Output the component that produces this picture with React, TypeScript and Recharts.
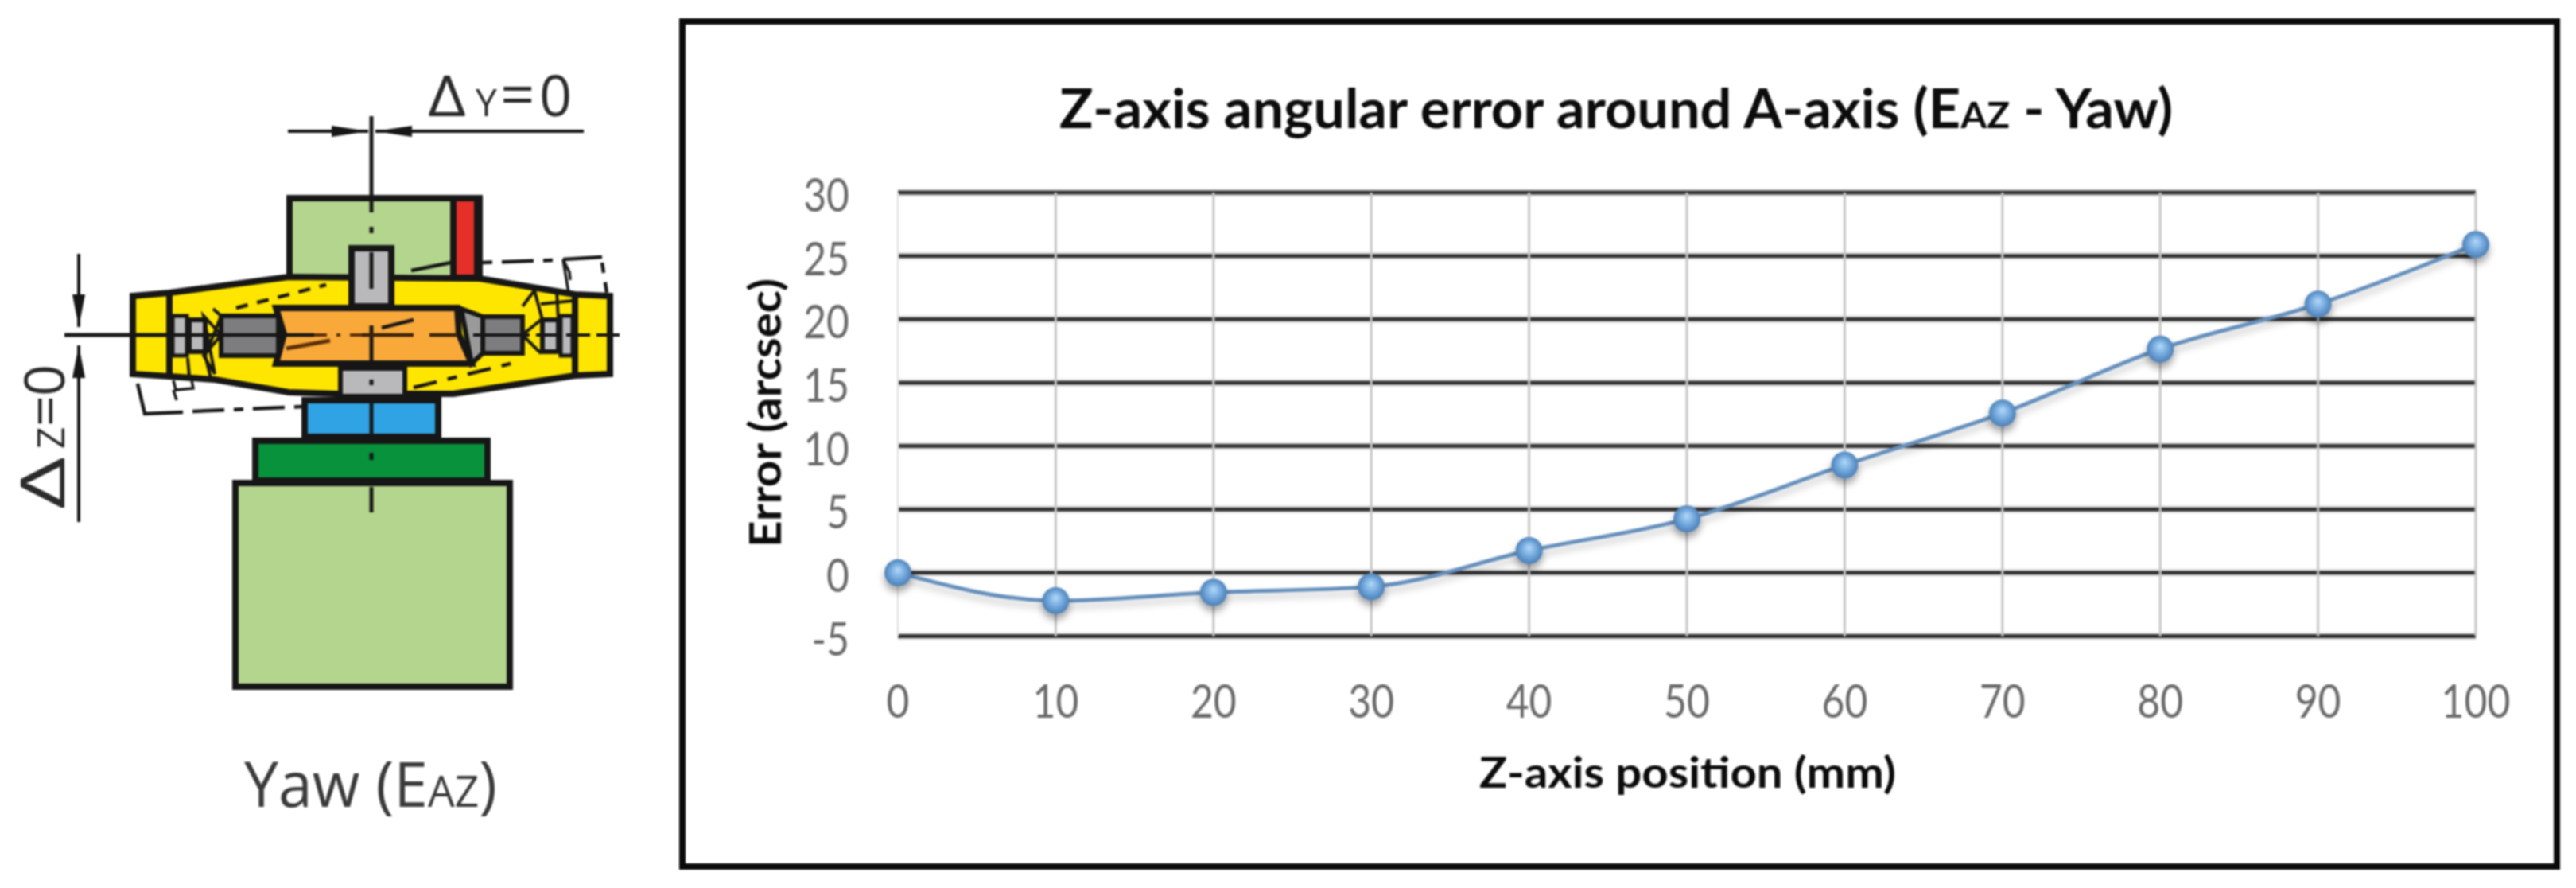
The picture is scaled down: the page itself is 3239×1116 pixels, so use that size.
import { CartesianGrid, Label, Line, LineChart, XAxis, YAxis } from 'recharts';

const positions = [0, 10, 20, 30, 40, 50, 60, 70, 80, 90, 100];
const errors = [0, -2.2, -1.55, -1.1, 1.75, 4.25, 8.5, 12.6, 17.65, 21.2, 25.9];
const yTicks = [-5, 0, 5, 10, 15, 20, 25, 30];

const chartData = positions.map((position, i) => ({ position, error: errors[i] }));

const INK = '#161616';
const LABEL_FONT = 'Lato, "Open Sans", sans-serif';
const DRAW_FONT = '"Open Sans", sans-serif';

const XTick = ({ x, y, payload }: any) => (
  <g transform={`translate(${x},${y}) scale(0.86,1)`}>
    <text textAnchor="middle" fontFamily={LABEL_FONT} fontSize={58} fill="#6a6a6a">
      {payload.value}
    </text>
  </g>
);

const YTick = ({ x, y, payload }: any) => (
  <g transform={`translate(${x},${y + 24}) scale(0.86,1)`}>
    <text textAnchor="end" fontFamily={LABEL_FONT} fontSize={58} fill="#6a6a6a">
      {payload.value}
    </text>
  </g>
);

const BallDot = ({ cx, cy, index }: any) => (
  <circle key={index} cx={cx} cy={cy} r={17} fill="url(#ballFill)" filter="url(#ballShadow)" />
);

// left-hand machine sketch, just a drawing next to the plot
const Sketch = () => (
  <svg width={850} height={1116} style={{ position: 'absolute', left: 0, top: 0 }}>
    <g stroke={INK} strokeWidth={8} strokeLinejoin="miter">
      <rect x={296} y={607} width={345} height={256} fill="#b4d58e" />
      <rect x={364} y={249} width={239} height={104} fill="#b4d58e" />
      <rect x={570} y={249} width={30} height={100} fill="#e5302a" />
      <rect x={321} y={554} width={292} height={50} fill="#08923c" />
      <rect x={383} y={503} width={168} height={46} fill="#2fa3e3" />
      <polygon
        points="167,372 213,368 363,348 603,350 693,365 723,370 767,372 767,470 723,472 570,495 423,495 363,493 270,477 213,473 167,470"
        fill="#ffe600"
      />
      <line x1={213} y1={368} x2={213} y2={473} />
      <line x1={723} y1={370} x2={723} y2={472} />
      <polygon points="347,387 575,387 577,420 593,457 347,457 357,420" fill="#f9a93a" />
      <rect x={278} y={397} width={72} height={50} fill="#7d7d80" strokeWidth={6} />
      <rect x={607} y={398} width={50} height={46} fill="#7d7d80" strokeWidth={6} />
      <polygon points="580,388 607,398 607,444 593,457" fill="#9a9a9a" strokeWidth={6} />
      <rect x={217} y={397} width={18} height={50} fill="#b9b9bc" strokeWidth={5} />
      <rect x={238} y={402} width={20} height={40} fill="#b9b9bc" strokeWidth={6} />
      <rect x={682} y={402} width={20} height={40} fill="#b9b9bc" strokeWidth={6} />
      <rect x={705} y={397} width={15} height={50} fill="#b9b9bc" strokeWidth={5} />
      <polygon points="256,397 278,421 256,447 270,470" fill="none" strokeWidth={4} />
      <polyline points="268,388 278,397 258,447 265,475" fill="none" strokeWidth={4} />
      <polyline points="680,402 657,421 680,444" fill="none" strokeWidth={4} />
      <polyline points="657,385 672,365 682,402 682,444" fill="none" strokeWidth={4} />
      <polyline points="236,450 238,473 258,475" fill="none" strokeWidth={4} />
      <polyline points="700,366 702,402" fill="none" strokeWidth={4} />
      <line x1={680} y1={382} x2={720} y2={378} strokeWidth={4} />
      <rect x={442} y={312} width={50} height={73} fill="#b9b9bc" />
      <rect x={428} y={463} width={81} height={35} fill="#b9b9bc" strokeWidth={6} />
    </g>

    <g stroke={INK} strokeWidth={4.5} fill="none">
      <line x1={297} y1={387} x2={410} y2={358} strokeDasharray="15 12" />
      <line x1={520} y1={487} x2={650} y2={455} strokeDasharray="30 14 12 14" />
      <line x1={517} y1={340} x2={567} y2={330} />
      <line x1={607} y1={330} x2={697} y2={327} strokeDasharray="12 12 40 12" />
      <polyline points="708,326 757,323" />
      <line x1={757} y1={330} x2={763} y2={368} strokeDasharray="13 12" />
      <polyline points="717,352 716,342 708,326 715,368" strokeWidth={3.5} />
      <polyline points="173,482 182,520 230,518" />
      <line x1={242} y1={517} x2={380} y2={511} strokeDasharray="40 12 12 12" />
      <polyline points="218,478 221,490 243,488 241,478" strokeWidth={3.5} />
      <line x1={218} y1={490} x2={222} y2={503} strokeWidth={3.5} />
      <line x1={480} y1={412} x2={520} y2={402} />
      <polyline points="360,438 415,428" strokeWidth={5} stroke="#5b2f08" />
    </g>

    {/* centre lines */}
    <g stroke={INK} strokeWidth={5}>
      <line x1={467} y1={146} x2={467} y2={267} />
      <line x1={467} y1={285} x2={467} y2={293} />
      <line x1={467} y1={317} x2={467} y2={363} />
      <line x1={467} y1={409} x2={467} y2={455} />
      <line x1={467} y1={477} x2={467} y2={484} />
      <line x1={467} y1={505} x2={467} y2={548} />
      <line x1={467} y1={569} x2={467} y2={578} />
      <line x1={467} y1={612} x2={467} y2={644} />
      <line x1={81} y1={421} x2={213} y2={421} />
      <line x1={217} y1={421} x2={395} y2={421} strokeWidth={4.5} />
      <line x1={395} y1={421} x2={455} y2={421} strokeWidth={4} strokeDasharray="16 12 5 12" stroke="#5b2f08" />
      <line x1={455} y1={421} x2={520} y2={421} strokeWidth={4.5} stroke="#3a2208" />
      <line x1={540} y1={421} x2={575} y2={421} strokeWidth={4.5} stroke="#3a2208" />
      <line x1={595} y1={421} x2={640} y2={421} strokeWidth={4} />
      <line x1={636} y1={421} x2={779} y2={421} strokeWidth={4} strokeDasharray="30 8" />
    </g>

    {/* dimension marks */}
    <g stroke={INK} strokeWidth={4}>
      <line x1={362} y1={165} x2={463} y2={165} />
      <line x1={472} y1={165} x2={734} y2={165} />
      <line x1={99} y1={319} x2={99} y2={411} />
      <line x1={99} y1={434} x2={99} y2={656} />
    </g>
    <g fill={INK}>
      <polygon points="463,165 417,158 417,172" />
      <polygon points="472,165 518,158 518,172" />
      <polygon points="99,411 91,370 107,370" />
      <polygon points="99,434 91,475 107,475" />
    </g>

    <g fontFamily={DRAW_FONT} fill="#2b2b2b">
      <text transform="translate(538,146) scale(1.15,1)" fontSize={72}>Δ</text>
      <text x={598} y={146} fontSize={48}>Y</text>
      <text x={629} y={146} fontSize={76}>=</text>
      <text x={678} y={146} fontSize={72}>0</text>
    </g>
    <g fontFamily={DRAW_FONT} fill="#2b2b2b" transform="translate(81,640) rotate(-90)">
      <text transform="scale(1.5,1)" fontSize={76}>Δ</text>
      <text x={76} fontSize={48}>Z</text>
      <text x={104} fontSize={68}>=</text>
      <text x={142} fontSize={70}>0</text>
    </g>
    <text
      x={307}
      y={1014}
      fontFamily={DRAW_FONT}
      fontSize={78}
      fill="#3a3a3a"
      textLength={318}
      lengthAdjust="spacingAndGlyphs"
    >
      Yaw (E<tspan fontSize={54}>AZ</tspan>)
    </text>
  </svg>
);

export default function App() {
  return (
    <div
      style={{
        position: 'absolute',
        left: 0,
        top: 0,
        width: 3239,
        height: 1116,
        background: '#fff',
        filter: 'blur(0.8px)',
      }}
    >
      <Sketch />
      <div
        style={{
          position: 'absolute',
          left: 854,
          top: 23,
          width: 2349,
          height: 1054,
          border: '8px solid #0a0a0a',
          boxSizing: 'content-box',
        }}
      />
      <div style={{ position: 'absolute', left: 0, top: 0 }}>
        <LineChart
          width={3239}
          height={1116}
          data={chartData}
          margin={{ top: 242, right: 126, bottom: 216.5, left: 1049 }}
        >
          <defs>
            <radialGradient id="ballFill" cx="50%" cy="50%" r="55%" fx="50%" fy="38%">
              <stop offset="0%" stopColor="#b3d9f8" />
              <stop offset="50%" stopColor="#74a9de" />
              <stop offset="100%" stopColor="#4478ae" />
            </radialGradient>
            <filter id="ballShadow" x="-60%" y="-60%" width="220%" height="240%">
              <feDropShadow dx="0" dy="7" stdDeviation="5" floodColor="#000" floodOpacity="0.35" />
            </filter>
            <filter id="lineShadow" x="-5%" y="-10%" width="110%" height="125%">
              <feDropShadow dx="0" dy="7" stdDeviation="5" floodColor="#000" floodOpacity="0.22" />
            </filter>
          </defs>
          <CartesianGrid stroke="#e4e4e4" strokeWidth={10} vertical={false} horizontalValues={yTicks} />
          <CartesianGrid stroke="#333333" strokeWidth={5} vertical={false} horizontalValues={yTicks} />
          <CartesianGrid stroke="#e2e2e2" strokeWidth={2.5} horizontal={false} verticalValues={[0]} />
          <CartesianGrid stroke="#c6c6c6" strokeWidth={3} horizontal={false} verticalValues={positions.slice(1)} />
          <XAxis
            dataKey="position"
            type="number"
            domain={[0, 100]}
            ticks={positions}
            interval={0}
            height={100}
            axisLine={false}
            tickLine={false}
            tickSize={0}
            tickMargin={102}
            tick={<XTick />}
          >
            <Label
              content={() => (
                <text
                  x={2122}
                  y={990}
                  textAnchor="middle"
                  fontFamily={LABEL_FONT}
                  fontWeight={700}
                  fontSize={54}
                  fill="#0c0c0c"
                  textLength={524}
                  lengthAdjust="spacingAndGlyphs"
                >
                  Z-axis position (mm)
                </text>
              )}
            />
          </XAxis>
          <YAxis
            type="number"
            domain={[-5, 30]}
            ticks={yTicks}
            interval={0}
            width={80}
            axisLine={false}
            tickLine={false}
            tickSize={0}
            tickMargin={61}
            tick={<YTick />}
          >
            <Label
              content={() => (
                <text
                  transform="translate(982,519) rotate(-90)"
                  textAnchor="middle"
                  fontFamily={LABEL_FONT}
                  fontWeight={700}
                  fontSize={56}
                  fill="#0c0c0c"
                  textLength={338}
                  lengthAdjust="spacingAndGlyphs"
                >
                  Error (arcsec)
                </text>
              )}
            />
          </YAxis>
          <Line
            dataKey="error"
            type="monotone"
            stroke="#6690bd"
            strokeWidth={5}
            filter="url(#lineShadow)"
            dot={<BallDot />}
            activeDot={false}
            isAnimationActive={false}
          />
          <text
            x={2032}
            y={161}
            textAnchor="middle"
            fontFamily={LABEL_FONT}
            fontWeight={700}
            fontSize={68}
            fill="#0c0c0c"
            textLength={1400}
            lengthAdjust="spacingAndGlyphs"
          >
            Z-axis angular error around A-axis (E<tspan fontSize={46}>AZ</tspan> - Yaw)
          </text>
        </LineChart>
      </div>
    </div>
  );
}
